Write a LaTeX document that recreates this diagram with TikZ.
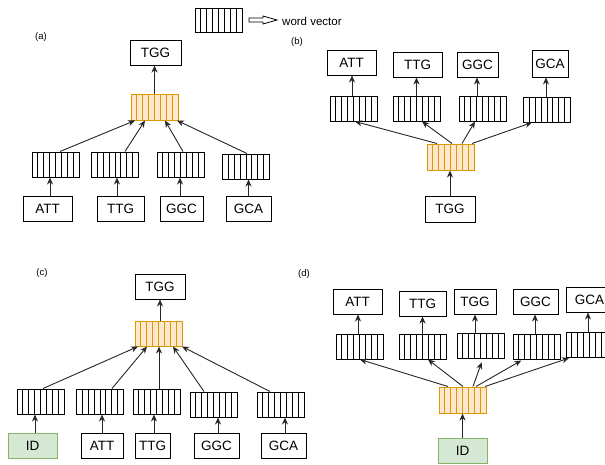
\documentclass[tikz,border=0pt]{standalone}
\usepackage{fontspec}
\setmainfont{Liberation Sans}
\usetikzlibrary{arrows.meta,calc}
\definecolor{orline}{HTML}{D79B00}
\definecolor{orfill}{HTML}{FFE6CC}
\definecolor{grline}{HTML}{82B366}
\definecolor{grfill}{HTML}{D5E8D4}
\tikzset{
  cells/.style={path picture={\foreach \i in {1,...,7}{\draw[#1, line width=0.9pt] ($(path picture bounding box.south west)!\i/8!(path picture bounding box.south east)$) -- ($(path picture bounding box.north west)!\i/8!(path picture bounding box.north east)$);}}},
  wvec/.style={draw=black, line width=1pt, minimum width=47pt, minimum height=25pt, inner sep=0pt, cells=black},
  ovec/.style={draw=orline, fill=orfill, line width=1pt, minimum width=47pt, minimum height=26pt, inner sep=0pt, cells=orline},
  wbox/.style={draw=black, line width=1pt, minimum height=25pt, inner sep=0pt, font=\fontsize{13.5}{15}\selectfont},
  idbox/.style={wbox, draw=grline, fill=grfill, minimum width=49pt},
  plabel/.style={font=\fontsize{9.5}{11}\selectfont, inner sep=0pt},
  conn/.style={-{Stealth[length=7pt,width=6pt]}, line width=0.9pt, draw=black!85},
}
\begin{document}
\begin{tikzpicture}[x=1pt,y=-1pt]
\useasboundingbox (0,0) rectangle (605,464);
\clip (0,0) rectangle (605,464);
\fill[white] (0,0) rectangle (605,464);
% legend
\node[wvec, minimum height=24pt] (leg) at (218.5,20) {};
\node[anchor=west, inner sep=0pt, font=\fontsize{11.5}{13}\selectfont] (legt) at (282,21) {word vector};
\draw[line width=0.8pt, fill=white] (249,18) -- (263,18) -- (263,16) -- (277,20) -- (263,24) -- (263,22) -- (249,22) -- cycle;

% ---------------- panel (a)
\node[plabel] (la) at (41,37) {(a)};
\node[wbox, minimum width=51pt] (aT) at (155.5,52.5) {TGG};
\node[ovec] (ao) at (154.5,107) {};
\node[wvec] (av1) at (55.5,164.5) {};
\node[wvec] (av2) at (115,164.5) {};
\node[wvec] (av3) at (180.5,164.5) {};
\node[wvec] (av4) at (246,166.5) {};
\node[wbox, minimum width=49pt] (aw1) at (47.5,209) {ATT};
\node[wbox, minimum width=47pt] (aw2) at (120.5,209) {TTG};
\node[wbox, minimum width=43pt] (aw3) at (181.5,209) {GGC};
\node[wbox, minimum width=45pt] (aw4) at (248.5,209) {GCA};
\draw[conn] (ao.north) -- (ao.north |- aT.south);
\draw[conn] ([xshift=2.5pt]aw1.north) -- ([xshift=2.5pt]aw1.north |- av1.south);
\draw[conn] ([xshift=-3.5pt]aw2.north) -- ([xshift=-3.5pt]aw2.north |- av2.south);
\draw[conn] ([xshift=-1.5pt]aw3.north) -- ([xshift=-1.5pt]aw3.north |- av3.south);
\draw[conn] (aw4.north) -- (aw4.north |- av4.south);
\draw[conn] ([xshift=4.5pt]av1.north) -- ([xshift=-19.5pt]ao.south);
\draw[conn] ([xshift=10pt]av2.north) -- ([xshift=-9.5pt]ao.south);
\draw[conn] ([xshift=2.5pt]av3.north) -- ([xshift=10.5pt]ao.south);
\draw[conn] ([xshift=1pt]av4.north) -- ([xshift=22.5pt]ao.south);

% ---------------- panel (b)
\node[plabel] (lb) at (297,42) {(b)};
\node[wbox, minimum width=49pt] (bw1) at (351.5,62.5) {ATT};
\node[wbox, minimum width=49pt] (bw2) at (417.5,64.5) {TTG};
\node[wbox, minimum width=41pt] (bw3) at (477.5,64.5) {GGC};
\node[wbox, minimum width=36pt, minimum height=27pt] (bw4) at (550,63.5) {GCA};
\node[wvec] (bv1) at (353.5,108.5) {};
\node[wvec] (bv2) at (416.5,108.5) {};
\node[wvec] (bv3) at (482.5,108.5) {};
\node[wvec] (bv4) at (547,109.5) {};
\node[ovec] (bo) at (450.5,157) {};
\node[wbox, minimum width=50pt, minimum height=26pt] (bT) at (450,209) {TGG};
\draw[conn] (bT.north) -- (bT.north |- bo.south);
\draw[conn] ([xshift=-1.5pt]bv1.north) -- ([xshift=-1.5pt]bv1.north |- bw1.south);
\draw[conn] (bv2.north) -- (bv2.north |- bw2.south);
\draw[conn] ([xshift=-5.5pt]bv3.north) -- ([xshift=-5.5pt]bv3.north |- bw3.south);
\draw[conn] ([xshift=-1pt]bv4.north) -- ([xshift=-1pt]bv4.north |- bw4.south);
\draw[conn] ([xshift=-13.5pt]bo.north) -- ([xshift=1.5pt]bv1.south);
\draw[conn] ([xshift=1.5pt]bo.north) -- ([xshift=5.5pt]bv2.south);
\draw[conn] ([xshift=11.5pt]bo.north) -- ([xshift=-7.5pt]bv3.south);
\draw[conn] ([xshift=21.5pt]bo.north) -- ([xshift=-15pt]bv4.south);

% ---------------- panel (c)
\node[plabel] (lc) at (42,273) {(c)};
\node[wbox, minimum width=50pt] (cT) at (160,286.5) {TGG};
\node[ovec, minimum height=25pt] (co) at (158.5,333.5) {};
\node[wvec] (cv1) at (40.5,401.5) {};
\node[wvec] (cv2) at (100,401.5) {};
\node[wvec] (cv3) at (156.5,401.5) {};
\node[wvec] (cv4) at (213.5,404.5) {};
\node[wvec] (cv5) at (280.5,404.5) {};
\node[idbox] (cw1) at (32.5,445.5) {ID};
\node[wbox, minimum width=42pt] (cw2) at (102,445.5) {ATT};
\node[wbox, minimum width=35pt] (cw3) at (152.5,445.5) {TTG};
\node[wbox, minimum width=45pt] (cw4) at (216.5,445.5) {GGC};
\node[wbox, minimum width=45pt] (cw5) at (283.5,445.5) {GCA};
\draw[conn] ([xshift=1.5pt]co.north) -- ([xshift=1.5pt]co.north |- cT.south);
\draw[conn] ([xshift=2.5pt]cw1.north) -- ([xshift=2.5pt]cw1.north |- cv1.south);
\draw[conn] (cw2.north) -- (cw2.north |- cv2.south);
\draw[conn] ([xshift=1.5pt]cw3.north) -- ([xshift=1.5pt]cw3.north |- cv3.south);
\draw[conn] ([xshift=1.5pt]cw4.north) -- ([xshift=1.5pt]cw4.north |- cv4.south);
\draw[conn] ([xshift=1.5pt]cw5.north) -- ([xshift=1.5pt]cw5.north |- cv5.south);
\draw[conn] ([xshift=2.5pt]cv1.north) -- ([xshift=-20.5pt]co.south);
\draw[conn] ([xshift=12pt]cv2.north) -- ([xshift=-11.5pt]co.south);
\draw[conn] ([xshift=2.5pt]cv3.north) -- ([xshift=0.5pt]co.south);
\draw[conn] ([xshift=-9.5pt]cv4.north) -- ([xshift=14.5pt]co.south);
\draw[conn] ([xshift=-10.5pt]cv5.north) -- ([xshift=23.5pt]co.south);

% ---------------- panel (d)
\node[plabel] (ld) at (304,274) {(d)};
\node[wbox, minimum width=49pt] (dw1) at (357.5,301.5) {ATT};
\node[wbox, minimum width=47pt] (dw2) at (422.5,303.5) {TTG};
\node[wbox, minimum width=42pt] (dw3) at (475,301.5) {TGG};
\node[wbox, minimum width=45pt] (dw4) at (535.5,301.5) {GGC};
\node[wbox, minimum width=47pt] (dw5) at (589.5,299.5) {GCA};
\node[wvec] (dv1) at (359.5,346.5) {};
\node[wvec] (dv2) at (422.5,346.5) {};
\node[wvec] (dv3) at (480.5,345.5) {};
\node[wvec] (dv4) at (536.5,346.5) {};
\node[wvec] (dv5) at (589.5,345) {};
\node[ovec] (do) at (462.5,400) {};
\node[idbox] (dID) at (462.5,450.5) {ID};
\draw[conn] (dID.north) -- (dID.north |- do.south);
\draw[conn] ([xshift=-1.5pt]dv1.north) -- ([xshift=-1.5pt]dv1.north |- dw1.south);
\draw[conn] (dv2.north) -- (dv2.north |- dw2.south);
\draw[conn] ([xshift=-5.5pt]dv3.north) -- ([xshift=-5.5pt]dv3.north |- dw3.south);
\draw[conn] ([xshift=-1.5pt]dv4.north) -- ([xshift=-1.5pt]dv4.north |- dw4.south);
\draw[conn] ([xshift=-1.5pt]dv5.north) -- ([xshift=-1.5pt]dv5.north |- dw5.south);
\draw[conn] ([xshift=-14.5pt]do.north) -- ([xshift=0.5pt]dv1.south);
\draw[conn] ([xshift=0.5pt]do.north) -- ([xshift=5.5pt]dv2.south);
\draw[conn, shorten >=4pt] ([xshift=10.5pt]do.north) -- ([xshift=2.5pt]dv3.south);
\draw[conn, shorten >=2pt] ([xshift=13.5pt]do.north) -- ([xshift=-13.5pt]dv4.south);
\draw[conn] ([xshift=22.5pt]do.north) -- ([xshift=-20.5pt]dv5.south);
\end{tikzpicture}
\end{document}
